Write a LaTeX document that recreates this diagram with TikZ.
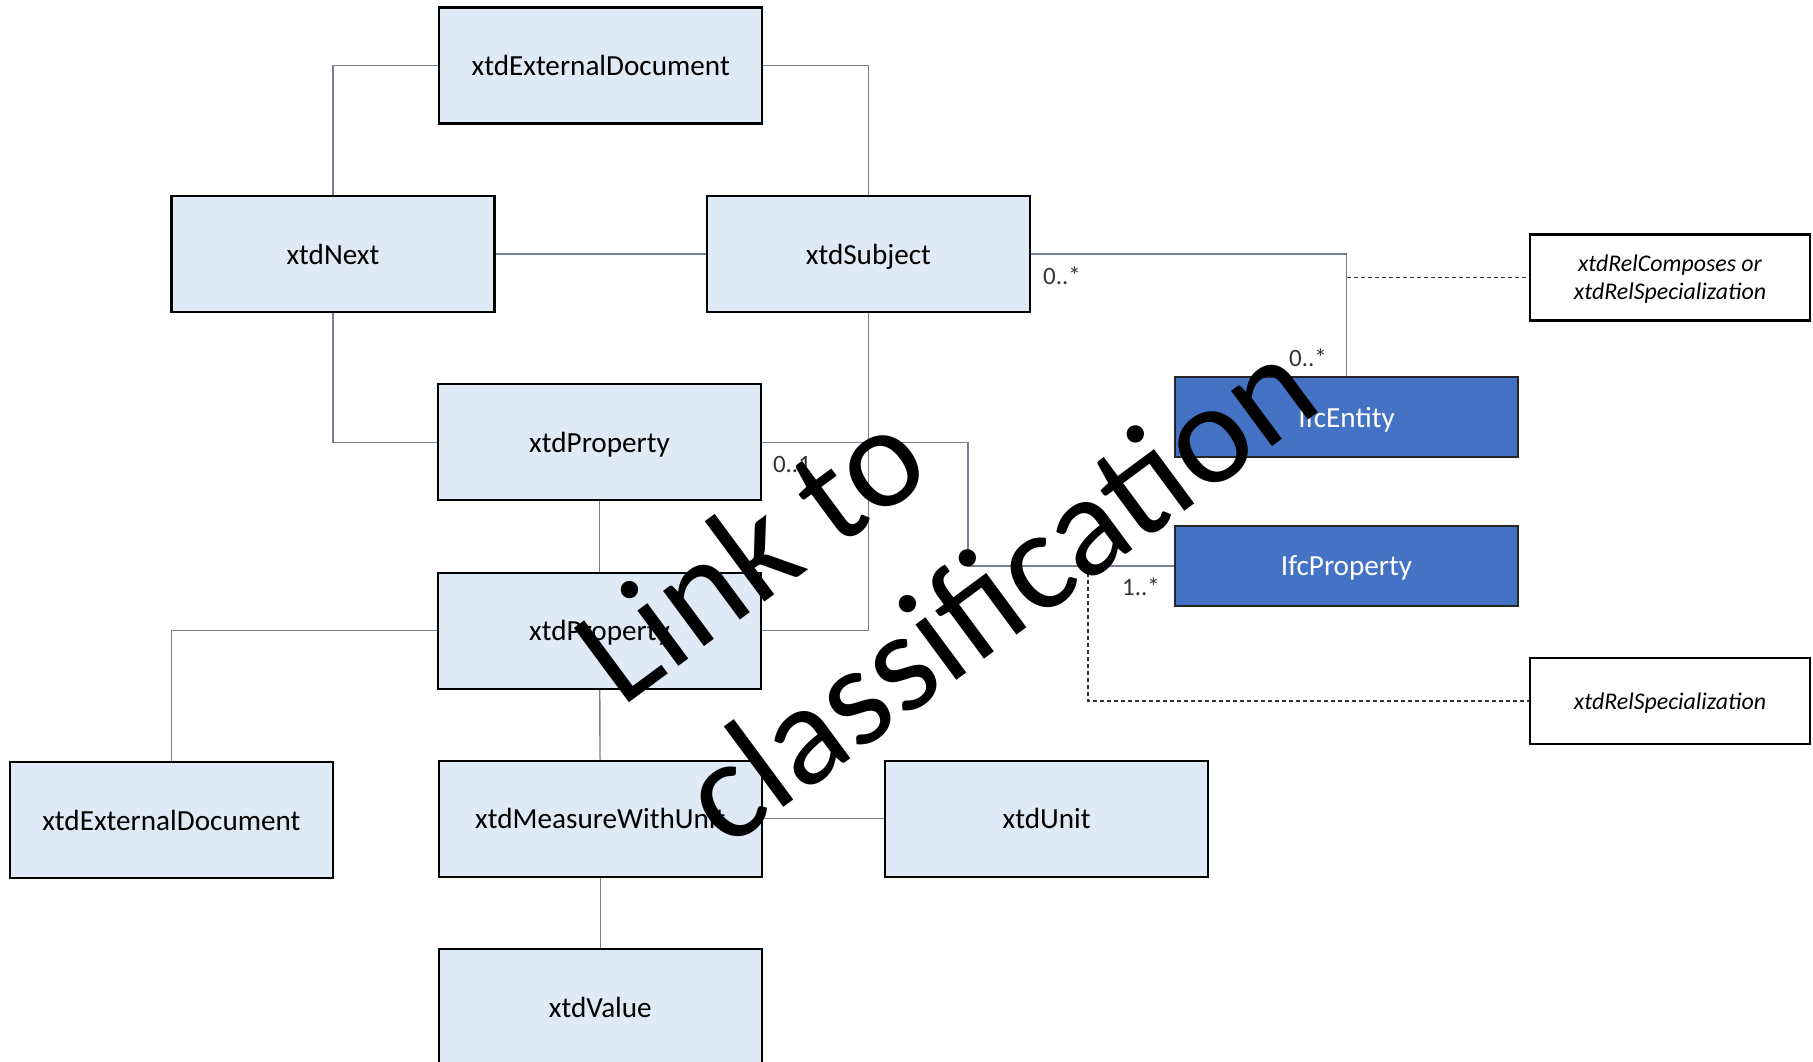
\documentclass[tikz,border=0pt]{standalone}
\usepackage{fontspec}
\setmainfont{Carlito}
\usetikzlibrary{calc}
\definecolor{boxfill}{RGB}{222,235,247}
\definecolor{ifcblue}{RGB}{68,114,196}
\definecolor{linkgray}{RGB}{118,128,145}
\tikzset{
	cls/.style = {draw = black, line width = 0.6pt, fill = boxfill, minimum width = 32.3mm, minimum height = 11.6mm, inner sep = 0pt, text depth = 0pt, font = \fontsize{8.3}{10}\selectfont},
	ifc/.style = {draw = black!85, line width = 0.6pt, fill = ifcblue, text = white, minimum width = 34.3mm, minimum height = 8mm, inner sep = 0pt, text depth = 0pt, font = \fontsize{8.3}{10}\selectfont},
	rel/.style = {draw = black, line width = 0.6pt, fill = white, minimum width = 28mm, minimum height = 8.6mm, inner sep = 0pt, text depth = 0pt, align = center, font = \fontsize{6.8}{7.9}\selectfont\itshape},
	link/.style = {draw = linkgray, line width = 0.4pt},
	relink/.style = {draw = black!80, line width = 0.4pt, dash pattern = on 0.4mm off 0.3mm},
	mult/.style = {text = black!80, inner sep = 0pt, font = \fontsize{7.1}{8}\selectfont},
	stamp/.style = {rotate = 36.5, align = left, inner sep = 0pt, font = \fontsize{41}{50.3}\selectfont}
}
\begin{document}
\begin{tikzpicture}[x = 0.1mm, y = -0.1mm]
	\useasboundingbox (0,0) rectangle (1813,1062);
	\begin{scope}
		\node [cls] (extTop) at (600.7,65.5) {xtdExternalDocument};
		\node [cls] (next) at (333,254) {xtdNext};
		\node [cls] (subject) at (868.4,254) {xtdSubject};
		\node [cls] (prop1) at (599.5,442.3) {xtdProperty};
		\node [cls] (prop2) at (599.5,630.8) {xtdProperty};
		\node [cls] (extLeft) at (171.4,820) {xtdExternalDocument};
		\node [cls] (measure) at (600.3,818.8) {xtdMeasureWithUnit};
		\node [cls] (unit) at (1046.7,818.8) {xtdUnit};
		\node [cls] (value) at (600.3,1007) {xtdValue};
		\node [ifc] (entity) at (1346.5,417) {IfcEntity};
		\node [ifc] (ifcProp) at (1346.5,566) {IfcProperty};
		\node [rel] (relComp) at (1670,277.5) {xtdRelComposes or\\xtdRelSpecialization};
		\node [rel] (relSpec) at (1670,701) {xtdRelSpecialization};
	\end{scope}
	\begin{scope}[link]
		\draw (extTop.west) -| (next.north);
		\draw (extTop.east) -| (subject.north);
		\draw (next) -- (subject);
		\draw (next.south) |- (prop1.west);
		\draw (subject.south) |- (prop2.east);
		\draw (subject.east) -| (entity.north);
		\draw (prop1.east) -| ($(prop1.east)!.5!(ifcProp.west)$) |- (ifcProp.west);
		\draw (prop1) -- (prop2);
		\draw (prop2.west) -| (extLeft.north);
		\draw (prop2) -- (measure);
		\draw (measure) -- (unit);
		\draw (measure) -- (value);
	\end{scope}
	\begin{scope}[relink]
		\coordinate (entityLink) at (entity.north |- relComp.west);
		\coordinate (propLink) at (1088,566);
		\draw (entityLink) -- (relComp.west);
		\draw (propLink) |- (relSpec.west);
	\end{scope}
	\begin{scope}
		\node [mult] (mSubject) at (1062,276) {0..*};
		\node [mult] (mEntity) at (1308,358) {0..*};
		\node [mult] (mProp) at (792,465) {0..1};
		\node [mult] (mIfcProp) at (1141,587) {1..*};
	\end{scope}
	\node [stamp] (stamp) at (944,518) {Link to\\classification};
\end{tikzpicture}
\end{document}
